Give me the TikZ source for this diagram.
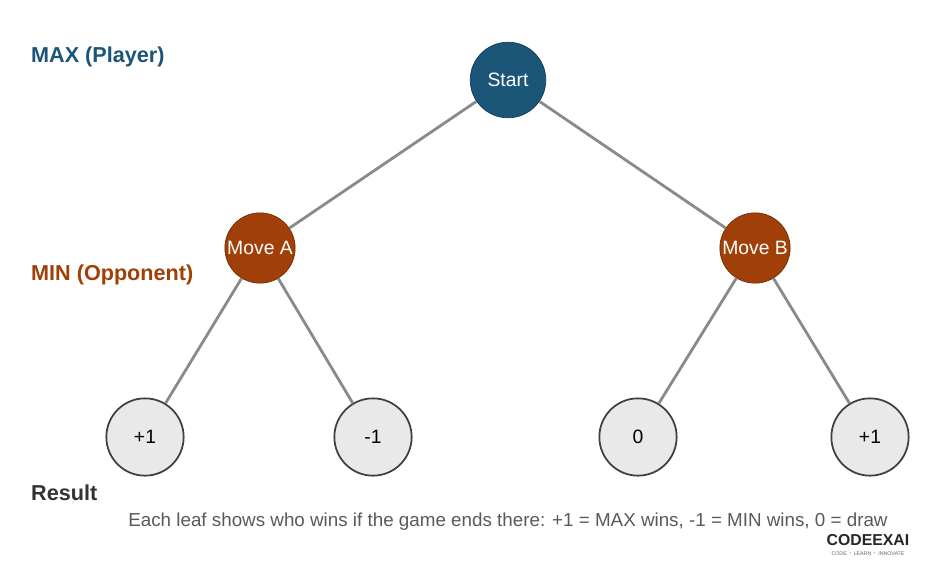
\documentclass[tikz,border=0pt]{standalone}
\usepackage{fontspec}
\setmainfont{Liberation Sans}
\definecolor{maxblue}{HTML}{1B5578}
\definecolor{minbrown}{HTML}{A04008}
\definecolor{leafgray}{HTML}{E9E9E9}
\definecolor{edgegray}{HTML}{8A8A8A}
\tikzset{
  maxnode/.style={circle, minimum size=43pt, inner sep=0pt, fill=maxblue, draw=maxblue!70!black, text=white, font=\fontsize{11}{13}\selectfont},
  minnode/.style={circle, minimum size=40pt, inner sep=0pt, fill=minbrown, draw=minbrown!70!black, text=white, font=\fontsize{11}{13}\selectfont},
  leaf/.style={circle, minimum size=44pt, inner sep=0pt, fill=leafgray, draw=black!75, line width=1pt, font=\fontsize{11}{13}\selectfont},
  edge/.style={draw=edgegray, line width=1.6pt},
  level/.style={anchor=west, font=\bfseries\fontsize{12.3}{14}\selectfont}
}
\begin{document}
\begin{tikzpicture}[x=0.02cm, y=-0.02cm]
  \useasboundingbox (0,0) rectangle (936,562);

  % tree
  \node[maxnode] (start) at (508,80) {Start};
  \node[minnode] (moveA) at (260,248) {Move A};
  \node[minnode] (moveB) at (755,248) {Move B};
  \node[leaf] (leafA1) at (145,437) {+1};
  \node[leaf] (leafA2) at (373,437) {-1};
  \node[leaf] (leafB1) at (638,437) {0};
  \node[leaf] (leafB2) at (870,437) {+1};

  \path[edge] (start) -- (moveA);
  \path[edge] (start) -- (moveB);
  \path[edge] (moveA) -- (leafA1);
  \path[edge] (moveA) -- (leafA2);
  \path[edge] (moveB) -- (leafB1);
  \path[edge] (moveB) -- (leafB2);

  % level labels
  \node[level, text=maxblue] (maxlabel) at (25,57) {MAX (Player)};
  \node[level, text=minbrown] (minlabel) at (25,275) {MIN (Opponent)};
  \node[level, text=black!80] (result) at (25,493) {Result};
  \node[text=black!65, font=\fontsize{10.7}{12}\selectfont] (caption) at (508,522)
    {Each leaf shows who wins if the game ends there: +1 = MAX wins, -1 = MIN wins, 0 = draw};

  % logo
  \node[font=\bfseries\fontsize{9}{10}\selectfont, text=black!85] (logo) at (868,540) {CODEEXAI};
  \node[font=\fontsize{3}{3.5}\selectfont, text=black!60, inner sep=0pt] (tagline) at (868,553) {CODE $\cdot$ LEARN $\cdot$ INNOVATE};
\end{tikzpicture}
\end{document}
